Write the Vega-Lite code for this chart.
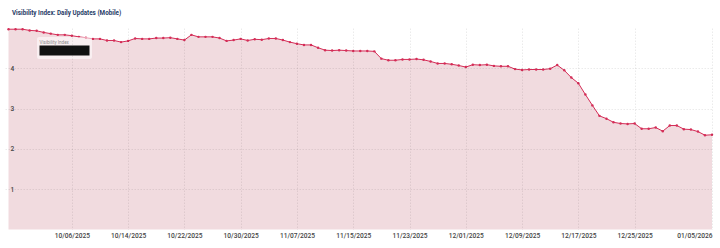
{
  "$schema": "https://vega.github.io/schema/vega-lite/v6.json",
  "autosize": {"type": "none"},
  "padding": {"left": 5, "top": 28, "right": 8, "bottom": 18.5},
  "width": 707,
  "height": 201.5,
  "background": "white",
  "config": {
    "font": "Roboto",
    "view": {"stroke": null}
  },
  "title": {
    "text": "Visibility Index: Daily Updates (Mobile)",
    "anchor": "start",
    "frame": "group",
    "dx": 7,
    "offset": 10.5,
    "fontSize": 6.3,
    "fontWeight": "bold",
    "color": "#1f3b66",
    "font": "Roboto"
  },
  "data": {
    "values": [
      {"date": "2025-09-27T00:00", "vi": 4.97},
      {"date": "2025-09-28T00:00", "vi": 4.97},
      {"date": "2025-09-29T00:00", "vi": 4.97},
      {"date": "2025-09-30T00:00", "vi": 4.94},
      {"date": "2025-10-01T00:00", "vi": 4.93},
      {"date": "2025-10-02T00:00", "vi": 4.89},
      {"date": "2025-10-03T00:00", "vi": 4.86},
      {"date": "2025-10-04T00:00", "vi": 4.83},
      {"date": "2025-10-05T00:00", "vi": 4.83},
      {"date": "2025-10-06T00:00", "vi": 4.81},
      {"date": "2025-10-07T00:00", "vi": 4.78},
      {"date": "2025-10-08T00:00", "vi": 4.76},
      {"date": "2025-10-09T00:00", "vi": 4.73},
      {"date": "2025-10-10T00:00", "vi": 4.73},
      {"date": "2025-10-11T00:00", "vi": 4.69},
      {"date": "2025-10-12T00:00", "vi": 4.69},
      {"date": "2025-10-13T00:00", "vi": 4.65},
      {"date": "2025-10-14T00:00", "vi": 4.68},
      {"date": "2025-10-15T00:00", "vi": 4.74},
      {"date": "2025-10-16T00:00", "vi": 4.73},
      {"date": "2025-10-17T00:00", "vi": 4.73},
      {"date": "2025-10-18T00:00", "vi": 4.75},
      {"date": "2025-10-19T00:00", "vi": 4.75},
      {"date": "2025-10-20T00:00", "vi": 4.76},
      {"date": "2025-10-21T00:00", "vi": 4.73},
      {"date": "2025-10-22T00:00", "vi": 4.70},
      {"date": "2025-10-23T00:00", "vi": 4.83},
      {"date": "2025-10-24T00:00", "vi": 4.78},
      {"date": "2025-10-25T00:00", "vi": 4.78},
      {"date": "2025-10-26T00:00", "vi": 4.78},
      {"date": "2025-10-27T00:00", "vi": 4.75},
      {"date": "2025-10-28T00:00", "vi": 4.68},
      {"date": "2025-10-29T00:00", "vi": 4.70},
      {"date": "2025-10-30T00:00", "vi": 4.73},
      {"date": "2025-10-31T00:00", "vi": 4.69},
      {"date": "2025-11-01T00:00", "vi": 4.72},
      {"date": "2025-11-02T00:00", "vi": 4.71},
      {"date": "2025-11-03T00:00", "vi": 4.74},
      {"date": "2025-11-04T00:00", "vi": 4.74},
      {"date": "2025-11-05T00:00", "vi": 4.70},
      {"date": "2025-11-06T00:00", "vi": 4.65},
      {"date": "2025-11-07T00:00", "vi": 4.61},
      {"date": "2025-11-08T00:00", "vi": 4.58},
      {"date": "2025-11-09T00:00", "vi": 4.58},
      {"date": "2025-11-10T00:00", "vi": 4.51},
      {"date": "2025-11-11T00:00", "vi": 4.45},
      {"date": "2025-11-12T00:00", "vi": 4.44},
      {"date": "2025-11-13T00:00", "vi": 4.45},
      {"date": "2025-11-14T00:00", "vi": 4.44},
      {"date": "2025-11-15T00:00", "vi": 4.43},
      {"date": "2025-11-16T00:00", "vi": 4.43},
      {"date": "2025-11-17T00:00", "vi": 4.43},
      {"date": "2025-11-18T00:00", "vi": 4.42},
      {"date": "2025-11-19T00:00", "vi": 4.24},
      {"date": "2025-11-20T00:00", "vi": 4.20},
      {"date": "2025-11-21T00:00", "vi": 4.20},
      {"date": "2025-11-22T00:00", "vi": 4.22},
      {"date": "2025-11-23T00:00", "vi": 4.22},
      {"date": "2025-11-24T00:00", "vi": 4.23},
      {"date": "2025-11-25T00:00", "vi": 4.21},
      {"date": "2025-11-26T00:00", "vi": 4.17},
      {"date": "2025-11-27T00:00", "vi": 4.12},
      {"date": "2025-11-28T00:00", "vi": 4.12},
      {"date": "2025-11-29T00:00", "vi": 4.10},
      {"date": "2025-11-30T00:00", "vi": 4.07},
      {"date": "2025-12-01T00:00", "vi": 4.03},
      {"date": "2025-12-02T00:00", "vi": 4.09},
      {"date": "2025-12-03T00:00", "vi": 4.08},
      {"date": "2025-12-04T00:00", "vi": 4.09},
      {"date": "2025-12-05T00:00", "vi": 4.06},
      {"date": "2025-12-06T00:00", "vi": 4.05},
      {"date": "2025-12-07T00:00", "vi": 4.05},
      {"date": "2025-12-08T00:00", "vi": 3.98},
      {"date": "2025-12-09T00:00", "vi": 3.96},
      {"date": "2025-12-10T00:00", "vi": 3.97},
      {"date": "2025-12-11T00:00", "vi": 3.97},
      {"date": "2025-12-12T00:00", "vi": 3.97},
      {"date": "2025-12-13T00:00", "vi": 3.99},
      {"date": "2025-12-14T00:00", "vi": 4.08},
      {"date": "2025-12-15T00:00", "vi": 3.95},
      {"date": "2025-12-16T00:00", "vi": 3.77},
      {"date": "2025-12-17T00:00", "vi": 3.63},
      {"date": "2025-12-18T00:00", "vi": 3.35},
      {"date": "2025-12-19T00:00", "vi": 3.08},
      {"date": "2025-12-20T00:00", "vi": 2.82},
      {"date": "2025-12-21T00:00", "vi": 2.75},
      {"date": "2025-12-22T00:00", "vi": 2.66},
      {"date": "2025-12-23T00:00", "vi": 2.63},
      {"date": "2025-12-24T00:00", "vi": 2.62},
      {"date": "2025-12-25T00:00", "vi": 2.63},
      {"date": "2025-12-26T00:00", "vi": 2.50},
      {"date": "2025-12-27T00:00", "vi": 2.50},
      {"date": "2025-12-28T00:00", "vi": 2.53},
      {"date": "2025-12-29T00:00", "vi": 2.44},
      {"date": "2025-12-30T00:00", "vi": 2.58},
      {"date": "2025-12-31T00:00", "vi": 2.58},
      {"date": "2026-01-01T00:00", "vi": 2.49},
      {"date": "2026-01-02T00:00", "vi": 2.48},
      {"date": "2026-01-03T00:00", "vi": 2.43},
      {"date": "2026-01-04T00:00", "vi": 2.34},
      {"date": "2026-01-05T00:00", "vi": 2.35}
    ]
  },
  "encoding": {
    "x": {
      "field": "date",
      "type": "temporal",
      "scale": {
        "domain": [
          {"year": 2025, "month": 9, "date": 26, "hours": 12},
          {"year": 2026, "month": 1, "date": 5}
        ]
      },
      "axis": {
        "zindex": 1,
        "title": null,
        "format": "%m/%d/%Y",
        "values": [
          {"year": 2025, "month": 10, "date": 6},
          {"year": 2025, "month": 10, "date": 14},
          {"year": 2025, "month": 10, "date": 22},
          {"year": 2025, "month": 10, "date": 30},
          {"year": 2025, "month": 11, "date": 7},
          {"year": 2025, "month": 11, "date": 15},
          {"year": 2025, "month": 11, "date": 23},
          {"year": 2025, "month": 12, "date": 1},
          {"year": 2025, "month": 12, "date": 9},
          {"year": 2025, "month": 12, "date": 17},
          {"year": 2025, "month": 12, "date": 25},
          {"year": 2026, "month": 1, "date": 5}
        ],
        "labelFontSize": 6.6,
        "labelFontWeight": 500,
        "labelColor": "#444444",
        "labelPadding": 3,
        "labelFlush": true,
        "labelOverlap": false,
        "ticks": false,
        "domain": false,
        "grid": true,
        "gridColor": "rgba(0,0,0,0.1)",
        "gridDash": [1.5, 1.5],
        "gridWidth": 0.8
      }
    },
    "y": {
      "field": "vi",
      "type": "quantitative",
      "scale": {"domain": [0, 5], "nice": false},
      "axis": {
        "zindex": 1,
        "title": null,
        "values": [1, 2, 3, 4],
        "labelAlign": "left",
        "labelBaseline": "middle",
        "labelPadding": -5,
        "labelFontSize": 6.6,
        "labelFontWeight": 500,
        "labelColor": "#444444",
        "ticks": false,
        "domain": false,
        "grid": true,
        "gridColor": "rgba(0,0,0,0.1)",
        "gridDash": [1.5, 1.5],
        "gridWidth": 0.8
      }
    }
  },
  "layer": [
    {
      "mark": {"type": "area", "color": "#f1dbdf", "opacity": 1}
    },
    {
      "mark": {
        "type": "line",
        "color": "#d42d57",
        "strokeWidth": 1,
        "point": {"filled": true, "size": 6, "color": "#d42d57"}
      }
    },
    {
      "transform": [{"filter": "false"}],
      "mark": {"type": "square", "filled": true},
      "encoding": {
        "color": {
          "datum": "Visibility Index",
          "type": "nominal",
          "scale": {"range": ["#111111"]},
          "legend": {
            "orient": "none",
            "legendX": 32,
            "legendY": 9,
            "title": "Visibility Index",
            "titleFont": "Roboto",
            "titleFontSize": 4.6,
            "titleFontWeight": "normal",
            "titleColor": "#8a8a8a",
            "titlePadding": 1.5,
            "labelExpr": "''",
            "labelFontSize": 1,
            "labelOffset": 0,
            "symbolType": "M-1,-1H9V1H-1Z",
            "symbolSize": 100,
            "symbolStrokeWidth": 0,
            "symbolOpacity": 1,
            "fillColor": "rgba(255,255,255,0.55)",
            "padding": 2.5,
            "cornerRadius": 2
          }
        }
      }
    }
  ]
}
